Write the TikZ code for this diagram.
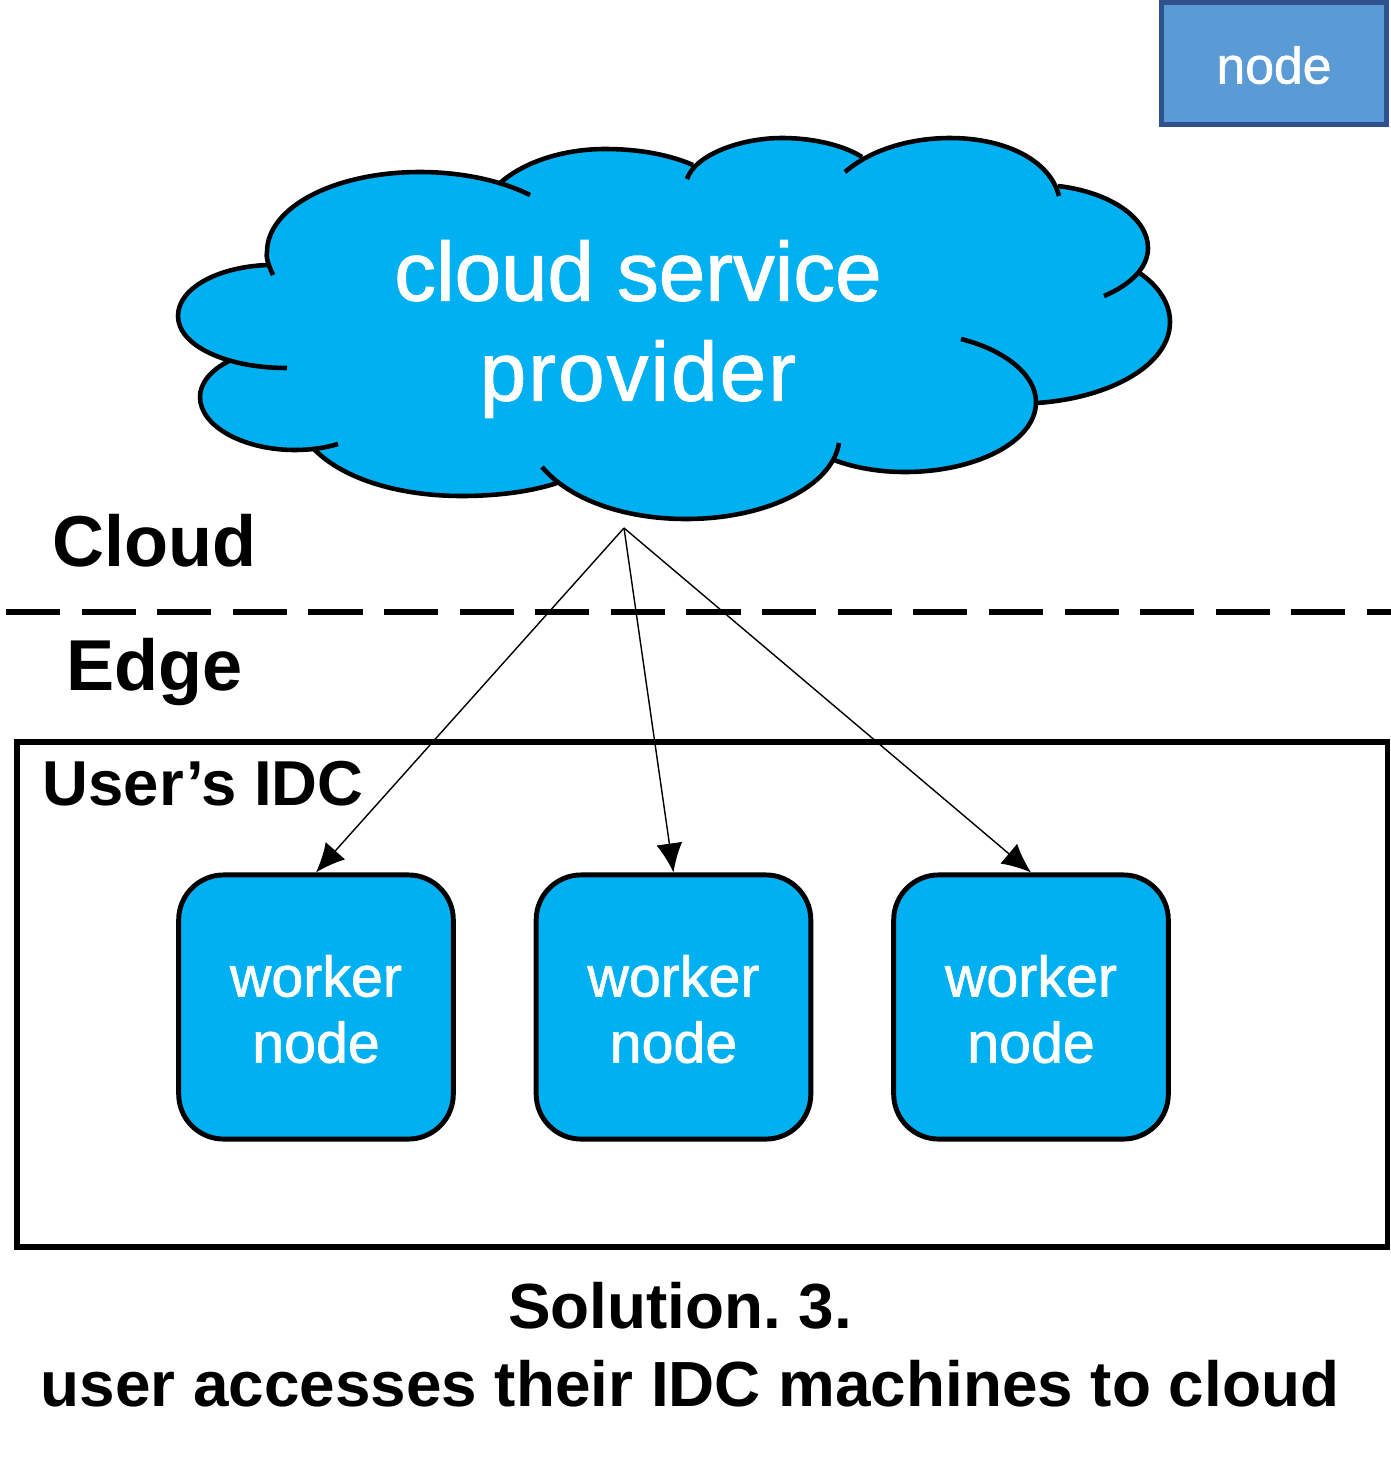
\documentclass[tikz,border=0pt]{standalone}
\usepackage{fontspec}
\setmainfont{Liberation Sans}
\newfontfamily\boxfont[FakeBold=1.2]{Liberation Sans}
\usetikzlibrary{arrows.meta}

\definecolor{cloudblue}{HTML}{00B0F0}
\definecolor{legendfill}{HTML}{5B9BD5}
\definecolor{legendline}{HTML}{2F528F}

\tikzset{
  workerbox/.style={draw, line width=1.4pt, fill=cloudblue, rounded corners=0.45cm, minimum width=2.745cm, minimum height=2.64cm, text=white, align=center, inner sep=0pt, font=\boxfont\fontsize{16.3}{18.8}\selectfont},
  sidelabel/.style={anchor=base west, inner sep=0pt, font=\fontsize{20.5}{24}\selectfont\bfseries},
  captionline/.style={anchor=base, inner sep=0pt, font=\fontsize{18.15}{22}\selectfont\bfseries},
  cloudfill/.style={fill=cloudblue, draw=cloudblue, line width=0.4pt},
  linkarrow/.style={line width=0.4pt, -{Latex[length=2.9mm,width=2.6mm]}}
}

\begin{document}
\frenchspacing
\begin{tikzpicture}[x=0.01cm, y=-0.01cm]
\useasboundingbox (0,0) rectangle (1391,1460);

% Legend
\node[draw=legendline, line width=1.4pt, fill=legendfill, minimum width=2.25cm, minimum height=1.22cm, text=white, font=\boxfont\fontsize{14.7}{17}\selectfont] (legend) at (1274,63.5) {\rule{0pt}{11.55pt}node};

% Cloud
\def\cloudlobes{
  {(273,275) .. controls (267,262) and (266,256) .. (267,252) .. controls (267,207) and (335,172) .. (420,172) .. controls (460,172) and (500,180) .. (530,195)},
  {(500,183) .. controls (525,161) and (565,149) .. (605,149) .. controls (640,149) and (670,155) .. (693,165)},
  {(687,179) .. controls (695,155) and (740,138) .. (782,138) .. controls (815,138) and (845,146) .. (862,157)},
  {(845,172) .. controls (870,150) and (910,138) .. (950,138) .. controls (1005,138) and (1050,160) .. (1059,196)},
  {(1058,186) .. controls (1110,192) and (1148,218) .. (1148,248) .. controls (1148,268) and (1130,285) .. (1104,296)},
  {(1138,272) .. controls (1158,285) and (1170,303) .. (1170,322) .. controls (1170,365) and (1110,398) .. (1037,403)},
  {(961,339) .. controls (1005,350) and (1036,375) .. (1036,402) .. controls (1036,442) and (975,472) .. (905,472) .. controls (880,472) and (855,468) .. (834,460)},
  {(839,443) .. controls (832,487) and (765,519) .. (686,519) .. controls (625,519) and (570,500) .. (542,467)},
  {(557,483) .. controls (530,492) and (495,496) .. (462,496) .. controls (395,496) and (340,477) .. (313,448)},
  {(338,444) .. controls (325,448) and (310,450) .. (295,450) .. controls (243,450) and (200,426) .. (200,397) .. controls (200,383) and (211,370) .. (229,361)},
  {(287,368) .. controls (225,368) and (178,345) .. (178,316) .. controls (178,288) and (218,267) .. (267,265)}}
\path[cloudfill] (267,265) -- (500,183) -- (693,165) -- (862,157) -- (1058,186) -- (1138,272) -- (1037,403) -- (834,460) -- (557,483) -- (313,448) -- (229,361) -- cycle;
\foreach \lobe in \cloudlobes { \path[cloudfill] \lobe -- cycle; }
\foreach \lobe in \cloudlobes { \draw[line width=1.3pt] \lobe; }
\node[text=white, align=center, inner sep=0pt, font=\boxfont\fontsize{23.75}{28.45}\selectfont] (provider) at (638,329) {cloud service\\{\addfontfeature{LetterSpace=2.5}provider}};
\coordinate (apex) at (624,528);

% Cloud / Edge border
\coordinate (borderL) at (6,612);
\coordinate (borderR) at (1391,612);
\draw[line width=1.6pt, dash pattern=on 15.4pt off 6.1pt] (borderL) -- (borderR);
\node[sidelabel] (cloudlabel) at (51.5,566) {Cloud};
\node[sidelabel] (edgelabel) at (66,690) {Edge};

% IDC box
\node[draw, line width=1.6pt, minimum width=13.695cm, minimum height=5.05cm] (idc) at (702.25,994.5) {};
\node[sidelabel, font=\fontsize{18.05}{22}\selectfont\bfseries] (idclabel) at (42,805) {User’s IDC};

% Workers
\node[workerbox] (worker1) at (316,1007) {\rule{0pt}{13pt}worker\\node};
\node[workerbox] (worker2) at (673.5,1007) {\rule{0pt}{13pt}worker\\node};
\node[workerbox] (worker3) at (1031,1007) {\rule{0pt}{13pt}worker\\node};

% Links
\draw[linkarrow] (apex) -- (worker1.north);
\draw[linkarrow] (apex) -- (worker2.north);
\draw[linkarrow] (apex) -- (worker3.north);

% Caption
\node[captionline] (caption1) at (680,1328) {Solution. 3.};
\node[captionline] (caption2) at (690,1406) {user accesses their IDC machines to cloud};

\end{tikzpicture}
\end{document}
